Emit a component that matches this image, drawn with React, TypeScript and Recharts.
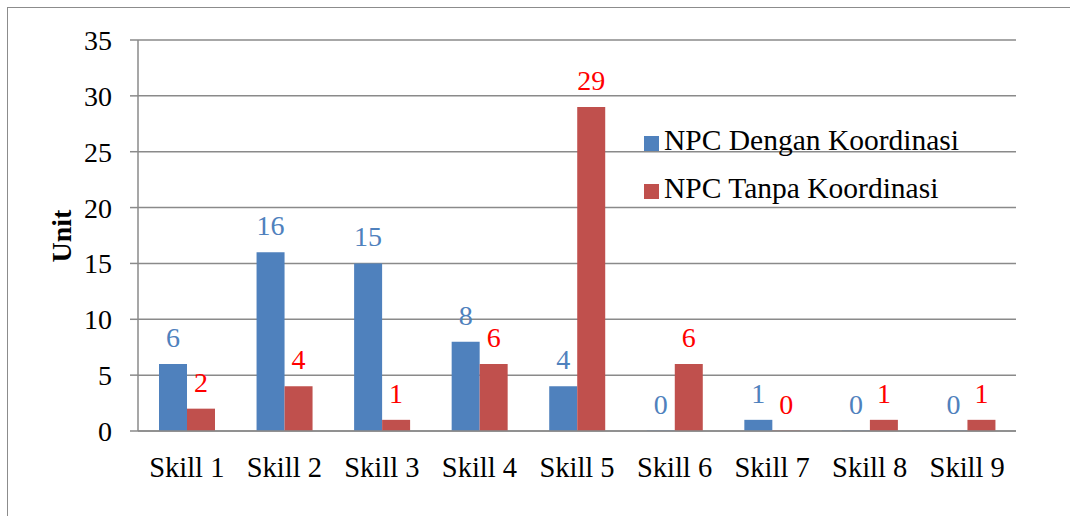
import React from 'react';
import { BarChart, Bar, XAxis, YAxis, CartesianGrid, LabelList, Label } from 'recharts';

// categories and values
const skills = ['Skill 1', 'Skill 2', 'Skill 3', 'Skill 4', 'Skill 5', 'Skill 6', 'Skill 7', 'Skill 8', 'Skill 9'];
const denganKoordinasi = [6, 16, 15, 8, 4, 0, 1, 0, 0];
const tanpaKoordinasi = [2, 4, 1, 6, 29, 6, 0, 1, 1];
const yTicks = [0, 5, 10, 15, 20, 25, 30, 35];

const data = skills.map((name, i) => ({
  name,
  dengan: denganKoordinasi[i],
  tanpa: tanpaKoordinasi[i],
}));

const FONT = '"Liberation Serif", "Times New Roman", serif';
const BLUE = '#4f81bd';
const RED = '#c0504d';
const GRID = '#8a8a8a';

const legendItems = [
  { label: 'NPC Dengan Koordinasi', color: BLUE },
  { label: 'NPC Tanpa Koordinasi', color: RED },
];

// legend sits inside the plot, drawn as plain html over the chart
const LegendBox = () => (
  <div style={{ position: 'absolute', left: 644, top: 116, fontFamily: FONT, fontSize: 29.5, color: '#000' }}>
    {legendItems.map((it) => (
      <div key={it.label} style={{ display: 'flex', alignItems: 'center', height: 48 }}>
        <span style={{ width: 15, height: 15, background: it.color, display: 'inline-block', marginRight: 5, marginTop: 6 }} />
        <span style={{ lineHeight: '48px', whiteSpace: 'nowrap' }}>{it.label}</span>
      </div>
    ))}
  </div>
);

const UnitLabel = () => (
  <text
    x={71}
    y={236}
    transform="rotate(-90, 71, 236)"
    textAnchor="middle"
    fontFamily={FONT}
    fontSize={28}
    fontWeight="bold"
    fill="#000"
  >
    Unit
  </text>
);

const App: React.FC = () => {
  return (
    <div style={{ position: 'absolute', left: 0, top: 0, width: 1070, height: 516, overflow: 'hidden', background: '#fff' }}>
      <div
        style={{
          position: 'absolute',
          left: 7,
          top: 7,
          width: 1100,
          height: 540,
          border: '1.5px solid #8c8c8c',
          boxSizing: 'border-box',
        }}
      />
      <div style={{ position: 'absolute', left: 0, top: 0 }}>
        <BarChart
          width={1070}
          height={516}
          data={data}
          margin={{ top: 40, right: 54, left: 0, bottom: 0 }}
          barGap={0}
        >
          <CartesianGrid vertical={false} stroke={GRID} strokeWidth={1.5} />
          <XAxis
            dataKey="name"
            axisLine={{ stroke: GRID, strokeWidth: 1.5 }}
            tickLine={false}
            tickSize={0}
            tickMargin={26}
            height={85}
            tick={{ fontFamily: FONT, fontSize: 28.5, fill: '#000' }}
            interval={0}
          />
          <YAxis
            width={138}
            domain={[0, 35]}
            ticks={yTicks}
            interval={0}
            axisLine={{ stroke: GRID, strokeWidth: 1.5 }}
            tickLine={{ stroke: GRID, strokeWidth: 1.5 }}
            tickSize={8}
            tickMargin={18}
            tick={{ fontFamily: FONT, fontSize: 28, fill: '#000' }}
          >
            <Label content={<UnitLabel />} />
          </YAxis>
          <Bar dataKey="dengan" fill={BLUE} barSize={28} minPointSize={0.5} isAnimationActive={false}>
            <LabelList dataKey="dengan" position="top" offset={17} fill={BLUE} fontFamily={FONT} fontSize={28} />
          </Bar>
          <Bar dataKey="tanpa" fill={RED} barSize={28} minPointSize={0.5} isAnimationActive={false}>
            <LabelList dataKey="tanpa" position="top" offset={17} fill="#ff0000" fontFamily={FONT} fontSize={28} />
          </Bar>
        </BarChart>
      </div>
      <LegendBox />
    </div>
  );
};

export default App;
